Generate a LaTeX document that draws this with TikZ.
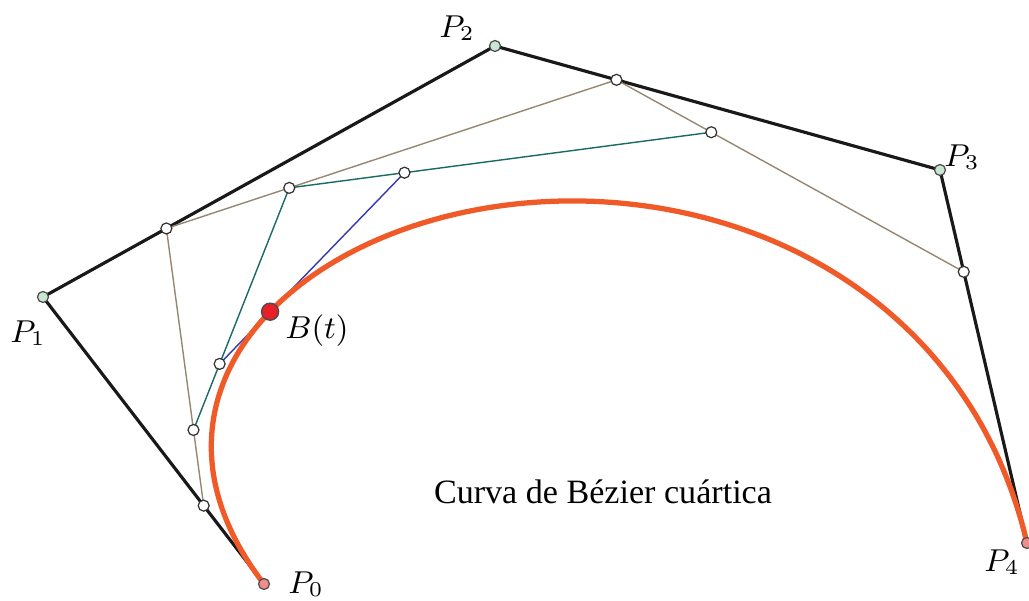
\documentclass[tikz,border=0pt]{standalone}
\usepackage{fontspec}
\newfontfamily\curvafont{Liberation Serif}
\usetikzlibrary{calc}

\definecolor{curvaorange}{RGB}{240,90,40}
\definecolor{puntorojo}{RGB}{232,30,40}
\definecolor{ctrlverde}{RGB}{200,230,210}
\definecolor{ctrlrosa}{RGB}{240,140,140}
\definecolor{nivelA}{RGB}{150,135,115}
\definecolor{nivelB}{RGB}{25,105,100}
\definecolor{nivelC}{RGB}{55,55,175}

\tikzset{
  poligono/.style={line width=0.9pt, black!90},
  aux/.style={draw=black!80, fill=white, line width=0.35pt},
  ctrl/.style={draw=black!70, line width=0.35pt},
  etiqueta/.style={font=\fontsize{8.8}{10}\selectfont, inner sep=0pt}
}

\newcommand{\tpar}{0.273}

\begin{document}
\begin{tikzpicture}[x=0.1mm, y=-0.1mm]
\useasboundingbox (0,0) rectangle (1029,601);

% Puntos de control
\coordinate (P0) at (264,584);
\coordinate (P1) at (43,297);
\coordinate (P2) at (495,46);
\coordinate (P3) at (940,170);
\coordinate (P4) at (1027,543);

% de Casteljau
\coordinate (Q0) at ($(P0)!\tpar!(P1)$);
\coordinate (Q1) at ($(P1)!\tpar!(P2)$);
\coordinate (Q2) at ($(P2)!\tpar!(P3)$);
\coordinate (Q3) at ($(P3)!\tpar!(P4)$);
\coordinate (R0) at ($(Q0)!\tpar!(Q1)$);
\coordinate (R1) at ($(Q1)!\tpar!(Q2)$);
\coordinate (R2) at ($(Q2)!\tpar!(Q3)$);
\coordinate (S0) at ($(R0)!\tpar!(R1)$);
\coordinate (S1) at ($(R1)!\tpar!(R2)$);
\coordinate (B) at ($(S0)!\tpar!(S1)$);

% Poligono de control
\draw[poligono] (P0) -- (P1) -- (P2) -- (P3) -- (P4);

% Niveles intermedios
\draw[nivelA, line width=0.4pt] (Q0) -- (Q1) -- (Q2) -- (Q3);
\draw[nivelB, line width=0.4pt] (R0) -- (R1) -- (R2);
\draw[nivelC, line width=0.4pt] (S0) -- (S1);

% Curva cuartica
\draw[curvaorange, line width=1.5pt] plot[domain=0:1, samples=120, smooth]
  ({(1-\x)^4*264 + 4*\x*(1-\x)^3*43 + 6*\x^2*(1-\x)^2*495 + 4*\x^3*(1-\x)*940 + \x^4*1027},
   {(1-\x)^4*584 + 4*\x*(1-\x)^3*297 + 6*\x^2*(1-\x)^2*46 + 4*\x^3*(1-\x)*170 + \x^4*543});

% Puntos
\foreach \p in {Q0,Q1,Q2,Q3,R0,R1,R2,S0,S1}
  \filldraw[aux] (\p) circle (5.5);
\foreach \p in {P1,P2,P3}
  \filldraw[ctrl, fill=ctrlverde] (\p) circle (5.5);
\foreach \p in {P0,P4}
  \filldraw[ctrl, fill=ctrlrosa] (\p) circle (5.5);
\filldraw[draw=black!70, fill=puntorojo, line width=0.4pt] (B) circle (8.5);

% Etiquetas
\node[etiqueta] (lP0) at (306,584) {$P_0$};
\node[etiqueta] (lP1) at (28,333) {$P_1$};
\node[etiqueta] (lP2) at (457,28) {$P_2$};
\node[etiqueta] (lP3) at (962,157) {$P_3$};
\node[etiqueta] (lP4) at (1002,562) {$P_4$};
\node[etiqueta] (lB) at (317,331) {$B(t)$};
\node[font=\curvafont\fontsize{9.7}{11}\selectfont, inner sep=0pt] (titulo) at (603,492) {Curva de Bézier cuártica};
\end{tikzpicture}
\end{document}
